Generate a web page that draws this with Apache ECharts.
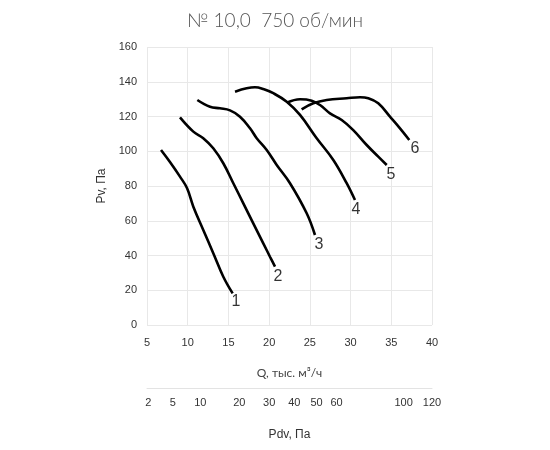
<!DOCTYPE html>
<html>
<head>
<meta charset="utf-8">
<script src="https://cdn.jsdelivr.net/npm/echarts@6/dist/echarts.min.js"></script>
<style>html,body{margin:0;padding:0;background:#fff}#c{width:550px;height:450px}</style>
</head>
<body>
<div id="c"></div>
<script>
// Curves: [Q (тыс. м³/ч), Pv (Па)]
const curve1 = [[6.72,100.7],[7.82,93.8],[9.05,85.4],[9.91,78.8],[10.69,68.1],[11.91,54.7],[13.14,41.3],[14.37,27.8],[15.52,18.2]];
const curve2 = [[9.05,119.5],[10.69,111.3],[11.91,107.5],[13.14,101.7],[14.37,93.1],[15.6,81.6],[16.83,70.0],[18.05,58.5],[19.28,47.0],[20.1,39.3],[20.72,33.6]];
const curve3 = [[11.18,129.5],[12.74,125.6],[13.96,124.7],[15.19,123.5],[16.42,119.9],[17.65,113.2],[18.47,107.5],[19.7,100.7],[20.93,92.1],[22.56,81.6],[24.61,64.3],[25.63,51.8]];
const curve4 = [[15.81,134.3],[17.24,136.2],[18.26,136.8],[19.28,135.8],[20.51,133.4],[22.16,128.5],[23.79,120.9],[25.84,107.5],[27.88,95.0],[29.52,81.6],[30.54,71.9]];
const curve5 = [[22.16,127.9],[23.79,129.9],[25.23,129.1],[26.25,126.6],[27.47,121.8],[28.91,118.0],[30.33,112.2],[31.98,103.6],[33.4,96.9],[34.44,92.1]];
const curve6 = [[23.99,124.1],[25.42,127.6],[27.07,129.5],[29.52,130.5],[31.16,131.1],[32.18,130.5],[33.4,127.6],[34.84,119.9],[36.07,113.2],[37.21,106.5]];
const curveLabels = [["1",15.93,13.2],["2",21.09,27.6],["3",26.12,46.0],["4",30.67,66.2],["5",34.96,86.3],["6",37.9,101.3]];
// Dynamic pressure tick labels (Па), placed where Q gives that Pdv (Pdv = 120 at Q = 40)
const pdvTicks = [2,5,10,20,30,40,50,60,100,120];
const qAtPdv = pdvTicks.map(p => 40*Math.sqrt(p/120));

const curves = [curve1,curve2,curve3,curve4,curve5,curve6];
const chart = echarts.init(document.getElementById('c'));
const series = curves.map(d => ({
  type:'line', data:d, smooth:0.4, symbol:'none',
  lineStyle:{color:'#000', width:2.6}, xAxisIndex:0, yAxisIndex:0, z:3
}));
series.push({
  type:'scatter', xAxisIndex:0, yAxisIndex:0, symbolSize:0,
  data: curveLabels.map(l => ({value:[l[1],l[2]], name:l[0]})),
  label:{show:true, position:'inside', formatter:p=>p.name, color:'#000', fontSize:16, fontFamily:'Liberation Sans'}
});
chart.setOption({
  animation:false,
  title:{text:'№ 10,0  750 об/мин', left:'center', top:6,
    textStyle:{fontFamily:'Lato', fontWeight:300, fontSize:19, color:'#555'}},
  grid:[{left:147, right:118, top:47, bottom:125},
        {left:147, right:118, top:387, height:1}],
  xAxis:[{
    type:'value', gridIndex:0, min:5, max:40, interval:5,
    axisLine:{show:false}, axisTick:{show:false},
    axisLabel:{color:'#333', fontSize:11, fontFamily:'Liberation Sans', margin:12},
    splitLine:{show:true, lineStyle:{color:'#e8e8e8'}},
    name:'Q, тыс. м³/ч', nameLocation:'middle', nameGap:42,
    nameTextStyle:{fontFamily:'Lato', fontSize:12, color:'#444'}
  },{
    type:'value', gridIndex:1, min:5, max:40, position:'bottom',
    axisLine:{show:true, lineStyle:{color:'#e3e3e3'}},
    axisTick:{show:false},
    splitLine:{show:false},
    axisLabel:{customValues:qAtPdv, showMinLabel:true, showMaxLabel:true,
      formatter:v=>{let i=0,b=1e9;qAtPdv.forEach((q,k)=>{if(Math.abs(q-v)<b){b=Math.abs(q-v);i=k;}});return String(pdvTicks[i]);},
      color:'#333', fontSize:11, fontFamily:'Liberation Sans', margin:9},
    name:'Pdv, Па', nameLocation:'middle', nameGap:41,
    nameTextStyle:{fontFamily:'Liberation Sans', fontSize:12, color:'#333'}
  }],
  yAxis:[{
    type:'value', gridIndex:0, min:0, max:160, interval:20,
    axisLine:{show:false}, axisTick:{show:false},
    axisLabel:{color:'#333', fontSize:11, fontFamily:'Liberation Sans', margin:10},
    splitLine:{show:true, lineStyle:{color:'#e8e8e8'}},
    name:'Pv, Па', nameLocation:'middle', nameGap:32,
    nameTextStyle:{fontFamily:'Liberation Sans', fontSize:12, color:'#333'}
  },{
    type:'value', gridIndex:1, show:false, min:0, max:1
  }],
  series:series
});
</script>
</body>
</html>
